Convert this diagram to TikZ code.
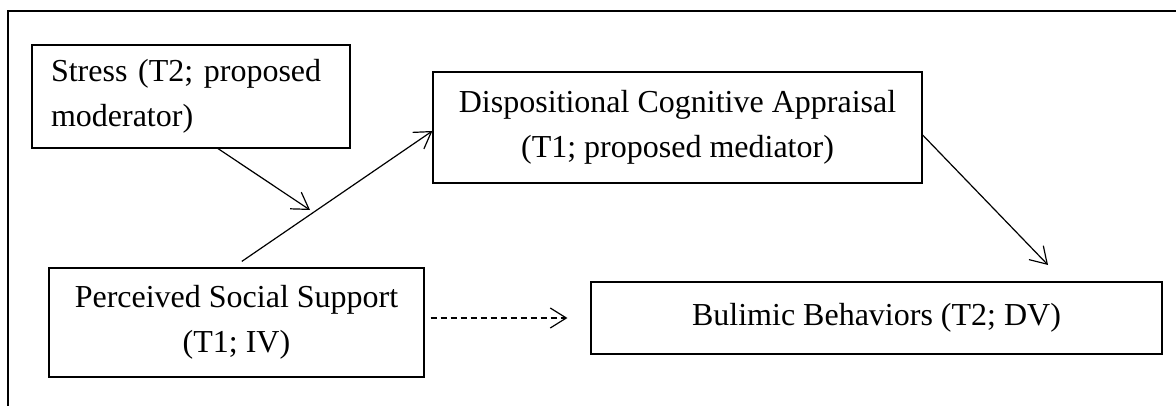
\documentclass[tikz,border=0pt]{standalone}
\usepackage{fontspec}
\setmainfont{Liberation Serif}
\usepackage{tikz}
\usetikzlibrary{calc,arrows.meta}

\tikzset{
  varbox/.style={draw,line width=0.9pt,inner sep=0pt,align=center,
    font=\fontsize{24}{34}\selectfont},
  link/.style={line width=0.9pt,-{Straight Barb[length=12pt,width=15pt]}}
}

\begin{document}
\begin{tikzpicture}[x=0.75pt,y=-0.75pt]
  \useasboundingbox (0,0) rectangle (1176,406);
  \draw[line width=1pt] (8,406)--(8,11)--(1176,11);
  \node[varbox,minimum width=238.5pt,minimum height=77.25pt,text width=210pt,align=left]
    (stress) at (191,96.5) {Stress (T2; proposed\\moderator)};
  \node[varbox,minimum width=281.25pt,minimum height=81.75pt]
    (pss) at (236.5,322.5) {Perceived Social Support\\(T1; IV)};
  \node[varbox,minimum width=366.75pt,minimum height=83.25pt]
    (dca) at (677.5,127.5) {Dispositional Cognitive Appraisal\\(T1; proposed mediator)};
  \node[varbox,minimum width=428.25pt,minimum height=54pt]
    (bb) at (876.5,318) {Bulimic Behaviors (T2; DV)};
  \coordinate (mod) at (310,210);
  \coordinate (bbtop) at (1048,265);
  \draw[link] ([xshift=20.25pt]stress.south) -- (mod);
  \draw[link] ([xshift=4pt,yshift=4.5pt]pss.north) -- ([yshift=-2.6pt]dca.west);
  \draw[link] ([yshift=-5.6pt]dca.east) -- (bbtop);
  \draw[link,dash pattern=on 4.5pt off 3pt]
    ($(pss.east |- bb.west)+(6,0)$) -- ($(bb.west)+(-23,0)$);
\end{tikzpicture}
\end{document}
